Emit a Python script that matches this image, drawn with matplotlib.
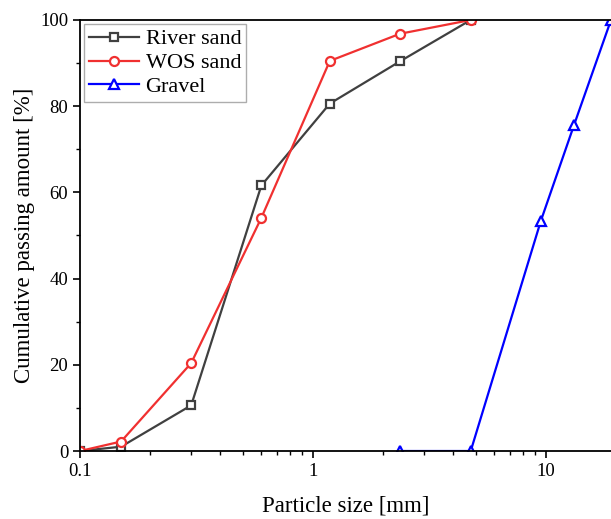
import matplotlib.pyplot as plt
from matplotlib.ticker import FixedLocator, NullFormatter, MultipleLocator

plt.rcParams['font.family'] = ['Liberation Serif']

size_sand = [0.1, 0.15, 0.3, 0.6, 1.18, 2.36, 4.75]
river_sand = [0.0, 1.0, 10.6, 61.6, 80.6, 90.4, 100.0]
wos_sand = [0.0, 2.2, 20.4, 54.1, 90.5, 96.8, 100.0]
size_gravel = [2.36, 4.75, 9.5, 13.2, 19.0]
gravel = [0.0, 0.0, 53.4, 75.7, 100.0]

fig = plt.figure(figsize=(6.11, 5.19), dpi=100)
ax = fig.add_axes([0.131, 0.131, 0.869, 0.8305])

ax.plot(size_sand, river_sand, marker='s', color='#404040', label='River sand',
        linewidth=1.6, markersize=6, markerfacecolor='white', markeredgewidth=1.6)
ax.plot(size_sand, wos_sand, marker='o', color='#f03030', label='WOS sand',
        linewidth=1.6, markersize=6.5, markerfacecolor='white', markeredgewidth=1.6)
ax.plot(size_gravel, gravel, marker='^', color='#0000ff', label='Gravel',
        linewidth=1.6, markersize=7, markerfacecolor='white', markeredgewidth=1.6)

ax.set_xscale('log')
ax.set_xlim(0.1, 19)
ax.set_ylim(0, 100)
ax.xaxis.set_major_locator(FixedLocator([0.1, 1, 10]))
ax.set_xticklabels(['0.1', '1', '10'])
ax.xaxis.set_minor_formatter(NullFormatter())
ax.yaxis.set_major_locator(MultipleLocator(20))
ax.yaxis.set_minor_locator(MultipleLocator(10))

ax.tick_params(which='major', length=5, width=1.2, labelsize=13.5, direction='out')
ax.tick_params(which='minor', length=3, width=1.0, direction='out')
for s in ax.spines.values():
    s.set_linewidth(1.3)
ax.spines['right'].set_visible(False)

ax.set_xlabel('Particle size [mm]', fontsize=16.5, labelpad=11)
ax.set_ylabel('Cumulative passing amount [%]', fontsize=16.5)

leg = ax.legend(loc='upper left', fontsize=16, fancybox=False, edgecolor='#999999',
                borderaxespad=0.2, handlelength=2.25, borderpad=0.2, labelspacing=0.15,
                handletextpad=0.3)
leg.get_frame().set_linewidth(1.0)

plt.savefig('out.png', dpi=100)
